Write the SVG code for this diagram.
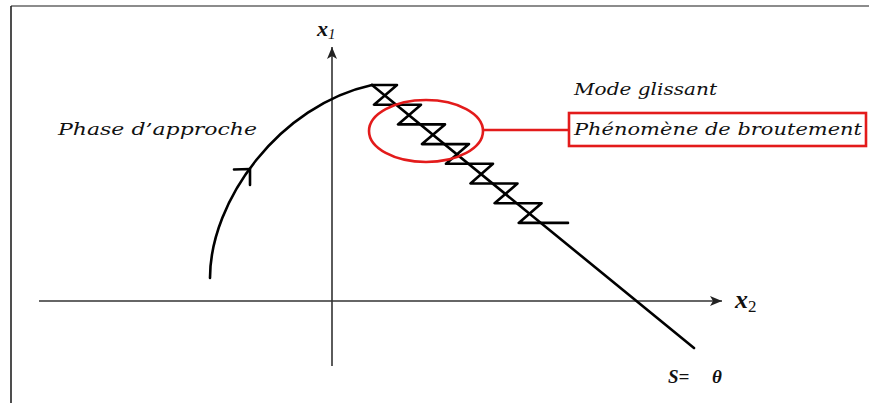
<svg xmlns="http://www.w3.org/2000/svg" width="869" height="403" viewBox="0 0 869 403">
  <style>
    .lbl { font-family: "DejaVu Serif", "Liberation Serif", serif; font-style: italic; fill: #111; }
    .math { font-family: "Liberation Serif", "DejaVu Serif", serif; fill: #111; }
    .axis { stroke: #333; stroke-width: 1.6; fill: none; }
    .traj { stroke: #000; stroke-width: 2.6; fill: none; stroke-linejoin: round; stroke-linecap: round; }
    .red { stroke: #e31b1b; stroke-width: 2.6; fill: none; }
  </style>
  <defs>
    <marker id="ah" viewBox="0 0 12 10" refX="12" refY="5" markerWidth="12" markerHeight="10" markerUnits="userSpaceOnUse" orient="auto">
      <path d="M0,0 L12,5 L0,10 L3,5 Z" fill="#222"/>
    </marker>
  </defs>
  <rect x="0" y="0" width="869" height="403" fill="#fff"/>
  <g id="frame">
    <line x1="11" y1="6" x2="869" y2="6" stroke="#666" stroke-width="1.6"/>
    <line x1="11" y1="6" x2="11" y2="403" stroke="#222" stroke-width="1.6"/>
  </g>
  <g id="axes">
    <line class="axis" x1="39" y1="301" x2="722" y2="301" marker-end="url(#ah)"/>
    <line class="axis" x1="332" y1="366" x2="332" y2="47" marker-end="url(#ah)"/>
    <text class="math" x="317" y="36" font-size="22" font-weight="bold" font-style="italic">x<tspan font-size="15" dy="3" font-weight="normal">1</tspan></text>
    <text class="math" x="735" y="308" font-size="26" font-style="italic" font-weight="bold">x<tspan font-size="17" dy="4" font-style="normal" font-weight="normal">2</tspan></text>
  </g>
  <g id="connectors">
    <path id="approach" class="traj" d="M210,278 C210,200 280,105 372,85"/>
    <polyline id="approach-arrow" class="traj" points="234,169.5 250,169 250,185"/>
    <line id="sliding-surface" class="traj" stroke-width="2" x1="372" y1="85" x2="694" y2="348"/>
    <polyline id="chattering" class="traj" points="372,85 397,85 374,104.7 421,104.7 398,124.4 445,124.4 422,144.1 469,144.1 446,163.8 493,163.8 470.5,183.5 517.5,183.5 494.6,203.2 541.6,203.2 518.7,222.9 568,222.9"/>
    <line id="callout-line" class="red" x1="483" y1="130" x2="569" y2="130"/>
  </g>
  <g id="chattering-zone">
    <ellipse class="red" cx="426" cy="131" rx="57" ry="31"/>
  </g>
  <g id="label-phase">
    <text class="lbl" x="58" y="135" font-size="17" textLength="199" lengthAdjust="spacingAndGlyphs">Phase d’approche</text>
  </g>
  <g id="label-mode">
    <text class="lbl" x="574" y="95" font-size="17" textLength="143" lengthAdjust="spacingAndGlyphs">Mode glissant</text>
  </g>
  <g id="label-broutement">
    <rect class="red" x="569" y="113" width="297" height="33"/>
    <text class="lbl" x="574" y="135" font-size="17" textLength="288" lengthAdjust="spacingAndGlyphs">Phénomène de broutement</text>
  </g>
  <g id="label-surface">
    <text class="math" x="668" y="383" font-size="19" font-weight="bold" font-style="italic">S=<tspan x="712">θ</tspan></text>
  </g>
</svg>
